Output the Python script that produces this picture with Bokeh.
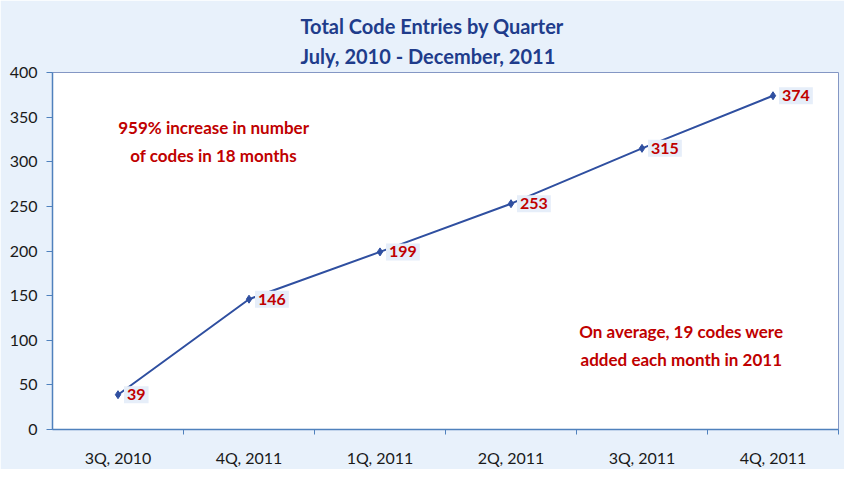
from bokeh.plotting import figure
from bokeh.models import (Range1d, FixedTicker, ColumnDataSource, Label, Title)
from bokeh.embed import file_html
from bokeh.resources import INLINE

categories = ["3Q, 2010", "4Q, 2011", "1Q, 2011", "2Q, 2011", "3Q, 2011", "4Q, 2011"]
values = [39, 146, 199, 253, 315, 374]
y_ticks = [0, 50, 100, 150, 200, 250, 300, 350, 400]
title_lines = ["Total Code Entries by Quarter", "July, 2010 - December, 2011"]
note1 = "959% increase in number\nof codes in 18 months"
note2 = "On average, 19 codes were\nadded each month in 2011"

xs = [i + 0.5 for i in range(len(categories))]
src = ColumnDataSource(dict(x=xs, y=values))

FONT = "Lato"
BG = "#E8F1FB"
W, H = 844, 469
BL, BR, BT, BB = 52, 6, 72, 36
p = figure(width=W, height=H, output_backend="svg", toolbar_location=None,
           x_range=Range1d(0, len(categories)), y_range=Range1d(0, 400),
           min_border_left=BL, min_border_right=BR, min_border_top=BT, min_border_bottom=BB)
p.border_fill_color = BG
p.background_fill_color = "white"
p.outline_line_color = "#8497C4"
p.outline_line_width = 1
p.grid.visible = False

p.add_layout(Title(text="\n".join(title_lines), align="left", offset=300 - BL, standoff=10,
                   text_font=FONT, text_font_size="20px", text_font_style="bold",
                   text_color="#203C8B", text_line_height=1.25), "above")

ax = p.xaxis[0]
ax.ticker = FixedTicker(ticks=xs, minor_ticks=list(range(1, len(categories) + 1)))
ax.major_label_overrides = {x: c for x, c in zip(xs, categories)}
ax.major_tick_out = 0
ax.major_tick_in = 0
ax.minor_tick_out = 5
ax.minor_tick_in = 0
ax.minor_tick_line_color = "#4F81BD"
ax.axis_line_color = "#4F81BD"
ax.axis_line_width = 1.5
ax.major_label_standoff = 13
ax.major_label_text_font = FONT
ax.major_label_text_font_size = "16px"
ax.major_label_text_color = "#1a1a1a"

ay = p.yaxis[0]
ay.ticker = FixedTicker(ticks=y_ticks)
ay.major_tick_out = 6
ay.major_tick_in = 0
ay.minor_tick_line_color = None
ay.major_tick_line_color = "#4F81BD"
ay.axis_line_color = "#4F81BD"
ay.axis_line_width = 1.5
ay.major_label_standoff = 9
ay.major_label_text_font = FONT
ay.major_label_text_font_size = "16px"
ay.major_label_text_color = "#1a1a1a"

p.line("x", "y", source=src, line_color="#2F4FA0", line_width=2)
p.scatter("x", "y", source=src, marker="diamond", size=8, color="#2F4FA0")

for xx, v in zip(xs, values):
    p.add_layout(Label(x=xx, y=v, text=str(v), x_offset=6, text_baseline="middle",
                       text_align="left", text_font=FONT, text_font_size="16px",
                       text_font_style="bold", text_color="#C00000",
                       background_fill_color="#E6EEF9", padding=3))

for txt, xx, yy in [(note1, 1.23, 323), (note2, 4.8, 94)]:
    p.add_layout(Label(x=xx, y=yy, text=txt, text_align="center", text_baseline="middle",
                       text_font=FONT, text_font_size="17px", text_font_style="bold",
                       text_color="#C00000", text_line_height=1.35))

open("out.html", "w").write(file_html(p, INLINE))
